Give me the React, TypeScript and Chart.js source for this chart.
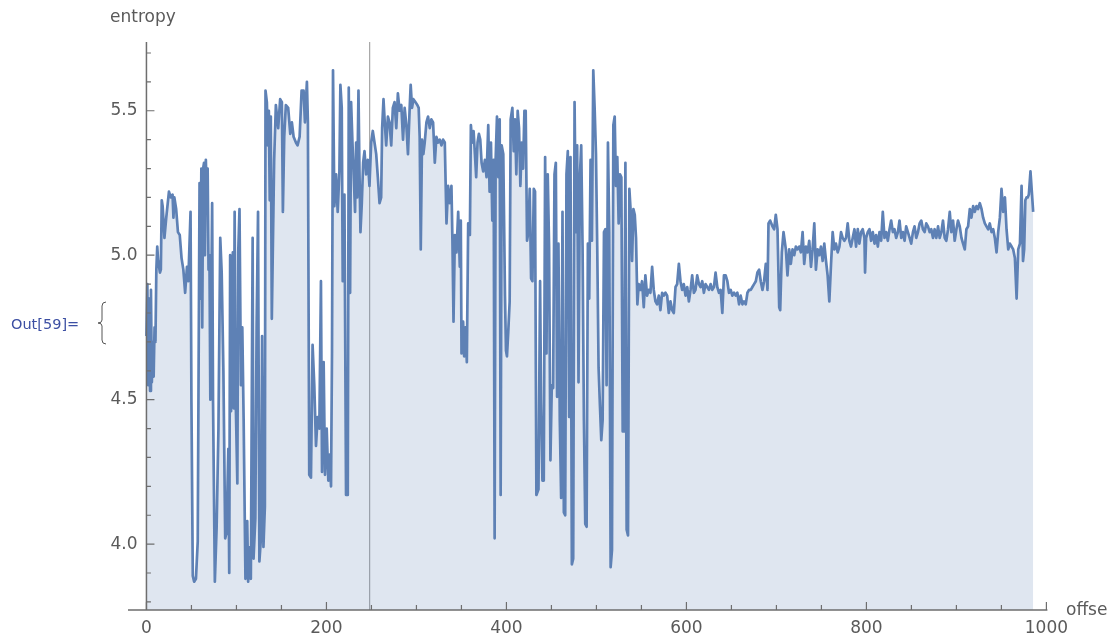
import React, { useEffect, useRef } from "react";
import { Chart, registerables } from "chart.js";

Chart.register(...registerables);

// offset (x) values of the sampled points
const offsets: number[] = [
  0, 1, 2, 3, 4, 5, 6, 7, 8, 9,
  10, 11, 12, 13, 14, 15, 16, 17, 18, 20,
  22, 25, 27, 29, 30, 31, 33, 35, 37, 39,
  41, 43, 45, 46.5, 49, 50, 51.5, 53, 55, 57,
  59, 60, 61, 62, 63, 64, 65, 66, 67, 68,
  69, 70, 71, 72, 73, 74, 76, 78, 80, 82,
  83.6, 85.5, 87.5, 89, 91, 92, 93, 94, 96, 97,
  98, 99, 101, 102, 103.4, 105, 106.5, 108, 110, 112,
  113, 115, 116, 118, 119, 121, 122.4, 124, 125.5, 127.4,
  128.5, 130, 131.6, 132.3, 133.8, 135, 136, 137,
  138.2, 139.3, 141.9, 143.8, 146.4, 148.6, 150.5, 151.6, 153.1, 154.9,
  157.5, 159.8, 161.6, 163.5, 166.1, 167.9, 170.2, 172.4, 174.6, 176.1,
  178.3, 179.4, 180.9, 182.8, 184.6, 186.5, 188.4, 190.2, 192.1, 193.9,
  195.1, 196.9, 198.4, 200.3, 202.1, 203.6, 205.1, 206.2, 207.3, 208.8,
  210.7, 212.5, 214.4, 215.5, 217, 218.1, 220, 221.8, 223.7, 224.8,
  226.3, 227.4, 228.9, 230.4, 231.8, 233, 234.1, 235.6, 236.7, 237.8,
  239.3, 240.8, 242.3, 244.1, 246, 247.8, 249.7, 251.5, 253.4, 255.3,
  257.1, 259, 260.8, 261.9, 263.4, 264.6, 266.4, 268.3, 270.1, 272,
  273.8, 275.7, 277.6, 279.4, 281.3,
  283.2, 285.1, 286.9, 288.8, 290.6, 292.5, 293.6, 295.1, 296.6, 298.8,
  301, 302.5, 303.6, 304.8, 306.2, 307.7, 309.2, 311.1, 312.9, 314.8,
  316.6, 318.5, 320.4, 322.2, 324.1, 325.9, 327.8, 329.6, 331.5, 333.4,
  335.2, 337.1, 338.9, 340, 341.2, 342.7, 344.5, 346.4, 348.2, 349.3,
  350.1, 351.9, 353, 354.5, 356, 357.5, 359.4, 360.5, 362, 363.5,
  365, 366.4, 367.9, 369.4, 370.9, 372.4, 374.2, 376.1, 377.9, 379.8,
  381.3, 382.8, 384.3, 385.8, 386.9, 388, 389.5, 391, 392.5, 393.6,
  394.7, 396.5, 398.4, 399.5, 400.6, 402.1, 403.6, 404.7, 406.6, 408.1,
  409.5, 411, 412.5, 414, 415.5, 417, 418.5, 420, 421.4, 422.9,
  424.4, 425.9, 427.4, 428.9, 430.4, 431.8, 433.3, 435.6, 437.4,
  438.5, 440, 441.5, 443, 444.5, 445.9, 447.4, 448.9, 450.4, 451.9,
  453.4, 454.9, 456.3, 457.8, 459.3, 460.8, 462.3, 463.8, 465.3, 466.7,
  468.2, 469.7, 471.2, 472.7, 474.2, 475.7, 477.2, 478.6, 480.1, 481.6,
  483.1, 484.6, 486.1, 487.6, 489.1, 490.5, 492, 493.5, 495, 496.5,
  498, 499.5, 500.9, 502.4, 503.9, 505.4, 506.9, 508.4, 509.9, 511.3,
  512.8, 514.3, 515.8, 517.3, 518.8, 520.3, 521.7, 523.2, 524.7, 526.2,
  527.7, 529.2, 530.7, 532.2, 533.6, 535.1, 536.6, 538.1, 539.6, 541.1,
  542.6, 544, 545.5, 547, 548.9,
  550.7, 552.6, 554.4, 556.3, 558.1, 560, 561.9, 563.7, 565.6, 567.4,
  569.3, 571.1, 573, 574.9, 576.7, 578.6, 580.4, 582.3, 584.1, 586,
  587.9, 589.7, 591.6, 593.4, 595.3, 597.1, 599, 600.9, 602.7, 604.6,
  606.4, 608.3, 610.1, 612, 613.9, 615.7, 617.6, 619.4, 621.3, 623.1,
  625, 626.9, 628.7, 630.6, 632.4, 634.3, 636.2, 638, 639.9, 641.7,
  643.6, 645.5, 647.3, 649.2, 651, 652.9, 654.8, 656.6, 658.5, 660.3,
  662.2, 664, 665.9, 667.8, 669.6, 671.5, 673.3, 675.2, 677.1, 678.9,
  680.8, 682.6, 684.5, 686.3, 688.2, 690.1, 691.2, 693, 695.6, 697.5,
  699.3, 701.2, 703.1, 704.2, 706, 707.9, 710.5, 712.3, 714.2, 716,
  717.9, 719.8, 721.6, 723.5, 725.3, 727.2, 729.1, 730.9, 732.8, 734.6,
  736.5, 738.4, 740.2, 742.1, 743.9, 745.8, 747.6, 749.5, 751.4, 753.2,
  755.1, 756.9, 758.8, 760.7, 762.5, 764.4, 766.2, 768.1, 770, 771.8,
  773.6, 775.5, 777.4, 779.2, 781.1, 782.9, 784.8, 786.7, 788.5, 790.4,
  792.2, 794.1, 795.9, 797.8, 798.5, 799.7, 801.5, 803.4, 805.2, 807.1,
  809, 810.8, 812.7, 814.5, 816.4, 818.2, 820.1, 822, 823.8, 825.7,
  827.5, 829.4, 831.2, 833.1, 835, 836.8, 838.7, 840.5, 842.4, 844.2,
  846.1, 848, 849.8, 851.7, 853.5, 855.4, 857.3, 859.1, 861, 862.8,
  864.7, 866.5, 868.4, 870.3, 872.1, 874, 875.8, 877.7, 879.6, 881.4,
  883.3, 885.1, 887, 888.8, 890.7, 892.6, 894.4, 896.3, 898.1, 900,
  901.8, 903.7, 905.6, 907.4, 909.3, 911.1, 913, 914.9, 916.7, 918.6,
  920.4, 922.3, 924.1, 926, 927.9, 929.7, 931.6, 933.4, 935.3, 937.1,
  939, 940.9, 942.7, 944.6, 946.4, 948.3, 950.1, 952, 953.9, 955.7,
  957.6, 959.4, 961.3, 963.1, 965, 966.9, 968.7, 970.6, 972.4, 974,
  975.3, 976.6, 977.9, 979.2, 980.5, 982.3, 983.8, 985.3,
];

// entropy (y) values, aligned with offsets
const entropy: number[] = [
  4.72, 4.90, 4.55, 4.85, 4.53, 4.88, 4.56, 4.70, 4.58, 4.75,
  4.70, 4.95, 5.03, 4.98, 4.96, 4.94, 4.95, 5.19, 5.17, 5.06,
  5.13, 5.22, 5.20, 5.21, 5.13, 5.20, 5.16, 5.08, 5.07, 4.99,
  4.95, 4.87, 4.96, 4.91, 5.15, 4.49, 3.89, 3.87, 3.88, 4.01,
  5.25, 4.85, 5.30, 4.75, 5.30, 5.32, 5.00, 5.33, 5.20, 5.30,
  4.95, 5.00, 4.50, 4.85, 5.18, 4.49, 3.87, 4.06, 4.40, 5.06,
  4.94, 4.60, 4.02, 4.04, 4.33, 3.90, 5.00, 4.46, 5.01, 4.47,
  5.15, 4.53, 4.21, 5.01, 5.16, 4.55, 4.75, 4.43, 3.88, 4.08,
  3.87, 3.99, 3.88, 5.06, 3.95, 4.09, 4.75, 5.15, 3.94, 4.03,
  4.72, 3.99, 4.13, 5.57, 5.53, 5.38, 5.50, 5.19,
  5.48, 4.78, 5.33, 5.52, 5.44, 5.54, 5.53, 5.15, 5.41, 5.52,
  5.51, 5.42, 5.46, 5.41, 5.39, 5.38, 5.41, 5.57, 5.57, 5.46,
  5.60, 5.46, 4.24, 4.23, 4.69, 4.55, 4.34, 4.44, 4.40, 4.91,
  4.25, 4.63, 4.24, 4.40, 4.22, 4.31, 4.20, 4.67, 5.64, 5.17,
  5.28, 5.15, 5.29, 5.59, 5.51, 4.91, 5.21, 4.17, 4.17, 5.58,
  4.87, 5.53, 5.39, 5.27, 5.15, 5.39, 5.20, 5.57, 5.29, 5.08,
  5.18, 5.32, 5.36, 5.28, 5.33, 5.24, 5.39, 5.43, 5.39, 5.35,
  5.27, 5.18, 5.20, 5.44, 5.54, 5.47, 5.38, 5.48, 5.46, 5.38,
  5.51, 5.53, 5.44, 5.56, 5.50,
  5.52, 5.40, 5.51, 5.45, 5.35, 5.51, 5.59, 5.51, 5.54, 5.53,
  5.52, 5.51, 5.41, 5.02, 5.40, 5.35, 5.39, 5.46, 5.48, 5.44,
  5.47, 5.46, 5.32, 5.41, 5.39, 5.40, 5.38, 5.40, 5.39, 5.11,
  5.24, 5.18, 5.24, 5.05, 4.77, 5.07, 5.01, 5.15, 4.96, 5.12,
  4.66, 4.77, 4.65, 4.75, 4.63, 5.11, 5.07, 5.45, 5.39, 5.43,
  5.35, 5.27, 5.39, 5.42, 5.40, 5.32, 5.29, 5.33, 5.27, 5.45,
  5.22, 5.39, 5.12, 5.33, 4.02, 5.33, 5.48, 5.27, 5.47, 4.17,
  5.38, 5.35, 4.86, 4.67, 4.65, 4.74, 4.84, 5.47, 5.51, 5.36,
  5.47, 5.28, 5.50, 5.44, 5.24, 5.39, 5.30, 5.50, 5.50, 5.05,
  5.08, 5.23, 4.92, 4.91, 5.23, 5.22, 4.17, 4.19, 4.91,
  4.49, 4.22, 4.22, 5.34, 4.66, 5.28, 5.03, 4.29, 4.55, 4.54,
  5.28, 5.32, 4.51, 5.04, 4.43, 4.16, 5.15, 4.11, 4.10, 5.28,
  5.36, 4.44, 5.34, 3.93, 3.95, 5.53, 5.08, 5.38, 4.56, 5.27,
  5.38, 5.03, 4.43, 4.07, 4.06, 5.04, 4.85, 5.33, 5.05, 5.64,
  5.51, 5.35, 5.03, 4.61, 4.48, 4.36, 4.43, 5.08, 5.09, 4.55,
  5.39, 5.08, 3.92, 3.98, 5.45, 5.48, 5.24, 5.34, 5.11, 5.28,
  5.27, 4.39, 4.39, 5.32, 4.05, 4.03, 5.23, 5.15, 4.98, 5.16,
  5.14, 5.06, 4.83, 4.90, 4.88,
  4.91, 4.82, 4.93, 4.86, 4.88, 4.87, 4.96, 4.88, 4.84, 4.83,
  4.86, 4.81, 4.87, 4.86, 4.87, 4.86, 4.80, 4.84, 4.81, 4.80,
  4.89, 4.90, 4.97, 4.91, 4.88, 4.90, 4.86, 4.89, 4.84, 4.88,
  4.93, 4.87, 4.88, 4.93, 4.90, 4.89, 4.91, 4.87, 4.90, 4.89,
  4.88, 4.90, 4.88, 4.89, 4.94, 4.89, 4.87, 4.88, 4.80, 4.93,
  4.93, 4.91, 4.87, 4.88, 4.86, 4.87, 4.86, 4.87, 4.83, 4.86,
  4.83, 4.84, 4.83, 4.87, 4.88, 4.88, 4.89, 4.90, 4.91, 4.94,
  4.95, 4.91, 4.88, 4.91, 4.97, 4.88, 5.11, 5.12, 5.10, 5.09,
  5.14, 5.09, 4.82, 4.81, 5.01, 5.08, 5.02, 4.93, 5.02, 4.97,
  5.02, 5.00, 5.03, 5.02, 5.03, 5.01, 5.08, 4.97, 5.03, 5.01,
  5.05, 4.96, 5.02, 5.11, 4.95, 5.02, 5.00, 5.03, 4.98, 5.04,
  4.98, 4.93, 4.84, 4.97, 5.08, 5.02, 5.04, 5.01, 5.03, 5.08,
  5.06, 5.05, 5.06, 5.11, 5.05, 5.03, 5.06, 5.09, 5.03, 5.09,
  5.04, 5.08, 5.09, 5.06, 4.94, 5.06, 5.08, 5.09, 5.05, 5.08,
  5.04, 5.07, 5.03, 5.08, 5.05, 5.15, 5.06, 5.08, 5.05, 5.09,
  5.12, 5.08, 5.09, 5.06, 5.08, 5.12, 5.06, 5.08, 5.05, 5.10,
  5.08, 5.06, 5.04, 5.08, 5.10, 5.06, 5.08, 5.11, 5.12, 5.09,
  5.08, 5.11, 5.10, 5.08, 5.09, 5.06, 5.09, 5.06, 5.10, 5.06,
  5.08, 5.12, 5.06, 5.05, 5.09, 5.15, 5.08, 5.12, 5.05, 5.09,
  5.12, 5.10, 5.06, 5.04, 5.02, 5.09, 5.10, 5.16, 5.13, 5.17,
  5.15, 5.17, 5.16, 5.18, 5.16, 5.13, 5.11, 5.10, 5.09, 5.11,
  5.08, 5.09, 5.06, 5.01, 5.08, 5.13, 5.23, 5.15, 5.20, 5.09,
  5.02, 5.04, 5.03, 5.02, 4.99, 4.85, 5.02, 5.04, 5.24, 4.98,
  5.02, 5.19, 5.20, 5.20, 5.21, 5.29, 5.22, 5.15,
];

const xMajorTicks = [0, 200, 400, 600, 800, 1000];
const xMinorTicks = [50, 100, 150, 250, 300, 350, 450, 500, 550, 650, 700, 750, 850, 900, 950];
const yMajorTicks = [4.0, 4.5, 5.0, 5.5];
const yTickLabels = ["4.0", "4.5", "5.0", "5.5"];
const yMinorTicks = [3.8, 3.9, 4.1, 4.2, 4.3, 4.4, 4.6, 4.7, 4.8, 4.9, 5.1, 5.2, 5.3, 5.4, 5.6, 5.7];
const markerOffset = 248;
const yAxisTitle = "entropy";
const xAxisTitle = "offse";
const outLabel = "Out[59]=";

const LINE_COLOR = "rgb(94,129,181)";
const FILL_COLOR = "rgba(94,129,181,0.2)";
const AXIS_COLOR = "#6e6e6e";
const LABEL_COLOR = "#5a5a5a";
const FONT = '"DejaVu Sans", "Liberation Sans", sans-serif';

const mmaPlugin = {
  id: "mmaAxes",
  beforeDatasetsDraw(chart: any) {
    const { ctx, chartArea, scales } = chart;
    const xs = scales.x;
    const px = xs.getPixelForValue(markerOffset);
    ctx.save();
    ctx.strokeStyle = "rgba(150,150,150,0.85)";
    ctx.lineWidth = 1.2;
    ctx.beginPath();
    ctx.moveTo(px, chartArea.top);
    ctx.lineTo(px, chartArea.bottom);
    ctx.stroke();
    ctx.restore();
  },
  afterDraw(chart: any) {
    const { ctx, chartArea, scales } = chart;
    const xs = scales.x;
    const ys = scales.y;
    const x0 = xs.getPixelForValue(0);
    const yb = chartArea.bottom;
    ctx.save();
    ctx.strokeStyle = AXIS_COLOR;
    ctx.lineWidth = 1.5;
    ctx.beginPath();
    ctx.moveTo(x0, chartArea.top);
    ctx.lineTo(x0, yb);
    ctx.moveTo(chartArea.left, yb);
    ctx.lineTo(xs.getPixelForValue(1000) + 1, yb);
    ctx.stroke();
    ctx.lineWidth = 1.2;
    ctx.beginPath();
    yMajorTicks.forEach((v) => {
      const p = ys.getPixelForValue(v);
      ctx.moveTo(x0, p);
      ctx.lineTo(x0 + 8, p);
    });
    yMinorTicks.forEach((v) => {
      const p = ys.getPixelForValue(v);
      ctx.moveTo(x0, p);
      ctx.lineTo(x0 + 4.5, p);
    });
    xMajorTicks.forEach((v) => {
      const p = xs.getPixelForValue(v);
      ctx.moveTo(p, yb);
      ctx.lineTo(p, yb - 8);
    });
    xMinorTicks.forEach((v) => {
      const p = xs.getPixelForValue(v);
      ctx.moveTo(p, yb);
      ctx.lineTo(p, yb - 5);
    });
    ctx.stroke();

    ctx.fillStyle = LABEL_COLOR;
    ctx.font = `17px ${FONT}`;
    ctx.textAlign = "right";
    ctx.textBaseline = "middle";
    yMajorTicks.forEach((v, i) => {
      ctx.fillText(yTickLabels[i], x0 - 9, ys.getPixelForValue(v));
    });
    ctx.textAlign = "center";
    ctx.textBaseline = "top";
    xMajorTicks.forEach((v) => {
      ctx.fillText(String(v), xs.getPixelForValue(v), yb + 10);
    });

    ctx.textAlign = "left";
    ctx.textBaseline = "middle";
    ctx.fillText(yAxisTitle, 110, 18);
    ctx.fillText(xAxisTitle, 1066, 611);

    ctx.font = `14.5px ${FONT}`;
    ctx.fillStyle = "#3c4fa3";
    ctx.fillText(outLabel, 11, 325);

    ctx.strokeStyle = "#555";
    ctx.lineWidth = 1;
    ctx.beginPath();
    ctx.moveTo(106, 302);
    ctx.quadraticCurveTo(102, 302, 102, 306);
    ctx.lineTo(102, 320);
    ctx.quadraticCurveTo(102, 323, 98, 323);
    ctx.quadraticCurveTo(102, 323, 102, 326);
    ctx.lineTo(102, 340);
    ctx.quadraticCurveTo(102, 344, 106, 344);
    ctx.stroke();
    ctx.restore();
  },
};

export default function App() {
  const canvasRef = useRef<HTMLCanvasElement | null>(null);

  useEffect(() => {
    if (!canvasRef.current) return;
    const points = offsets.map((x, i) => ({ x, y: entropy[i] }));
    const chart = new Chart(canvasRef.current, {
      type: "line",
      data: {
        datasets: [
          {
            data: points,
            borderColor: LINE_COLOR,
            backgroundColor: FILL_COLOR,
            borderWidth: 2.7,
            pointRadius: 0,
            tension: 0,
            fill: "start",
            borderJoinStyle: "round",
          },
        ],
      },
      options: {
        responsive: false,
        animation: false,
        layout: { padding: { left: 128, right: 64, top: 42, bottom: 26 } },
        plugins: { legend: { display: false }, tooltip: { enabled: false } },
        events: [],
        scales: {
          x: { type: "linear", min: -20.5, max: 1004, display: false },
          y: { type: "linear", min: 3.772, max: 5.738, display: false },
        },
      },
      plugins: [mmaPlugin],
    });
    return () => chart.destroy();
  }, []);

  return (
    <div style={{ position: "fixed", left: 0, top: 0, width: 1114, height: 636, background: "#fff" }}>
      <canvas ref={canvasRef} width={1114} height={636} />
    </div>
  );
}
